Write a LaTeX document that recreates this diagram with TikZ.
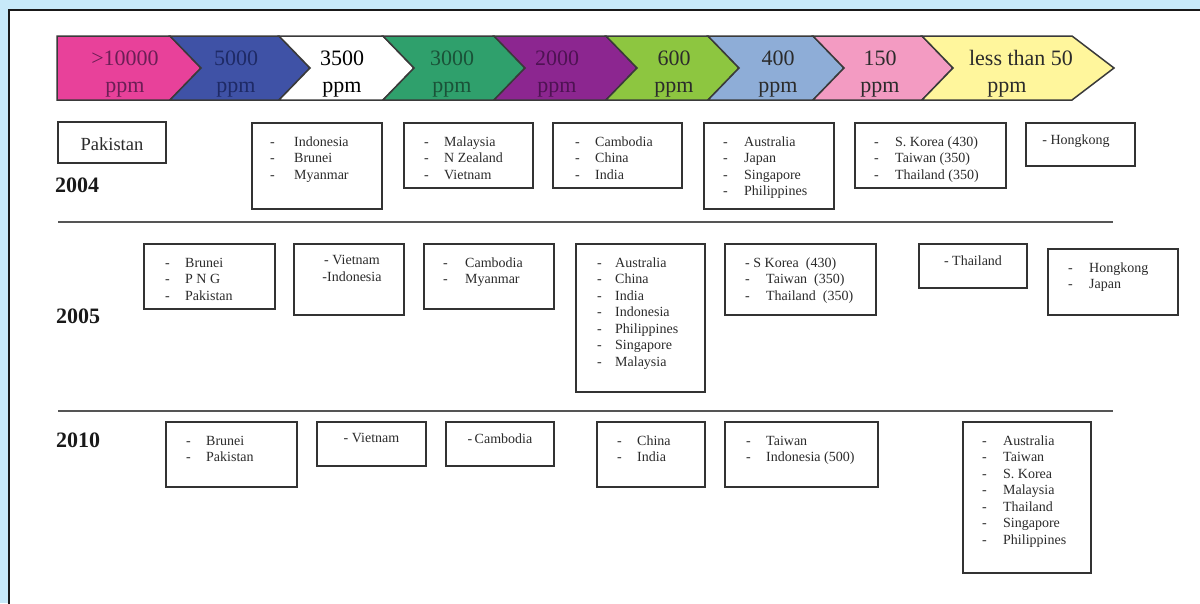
\documentclass[tikz,border=0pt]{standalone}
\usepackage{fontspec}
\setmainfont{Liberation Serif}
\definecolor{bgblue}{HTML}{C7E9F9}
\definecolor{chA}{HTML}{E8419A}
\definecolor{chB}{HTML}{3F52A6}
\definecolor{chC}{HTML}{FFFFFF}
\definecolor{chD}{HTML}{2FA06C}
\definecolor{chE}{HTML}{8C2690}
\definecolor{chF}{HTML}{8DC640}
\definecolor{chG}{HTML}{8EADD7}
\definecolor{chH}{HTML}{F39BC2}
\definecolor{chI}{HTML}{FFF69C}
\definecolor{tA}{HTML}{6B1E55}
\definecolor{tB}{HTML}{1E2A66}
\definecolor{tD}{HTML}{1A5238}
\definecolor{tE}{HTML}{4E1253}
\definecolor{tK}{HTML}{2B2B2B}
\definecolor{chline}{HTML}{3A3A3A}
\definecolor{boxline}{HTML}{333333}
\definecolor{sepline}{HTML}{555555}
\newcommand{\dlst}[2]{\begin{tabular}{@{}p{#1pt}@{}l@{}}#2\end{tabular}}
\begin{document}
\begin{tikzpicture}[x=1pt,y=-1pt,
  box/.style={draw=boxline, line width=1.9pt, fill=white, anchor=north west, inner sep=0pt, outer sep=0pt},
  lst/.style={anchor=north west, inner sep=0pt, text=tK, font=\fontsize{14}{16.5}\selectfont},
  ctr/.style={anchor=north, inner sep=0pt, text=tK, font=\fontsize{14}{16.5}\selectfont, align=center},
  chev/.style={draw=chline, line width=1.5pt, line join=miter},
  chevtxt/.style={font=\fontsize{22}{27}\selectfont, align=center, inner sep=0pt},
  yearlbl/.style={font=\fontsize{22}{26}\selectfont\bfseries, anchor=west, inner sep=0pt, text=black!90},
  sepl/.style={draw=sepline, line width=2pt}]
\useasboundingbox (0,0) rectangle (1200,603);
% background and panel
\fill[bgblue] (0,0) rectangle (1200,603);
\fill[white] (9,10) rectangle (1210,610);
\draw[black!90, line width=2.5pt] (9,612) -- (9,10) -- (1212,10);
% chevrons
\path[chev, fill=chA] (57,36)--(170,36)--(201,68)--(170,100)--(57,100)--cycle;
\path[chev, fill=chB] (170,36)--(279,36)--(310,68)--(279,100)--(170,100)--(201,68)--cycle;
\path[chev, fill=chC] (279,36)--(383,36)--(414,68)--(383,100)--(279,100)--(310,68)--cycle;
\path[chev, fill=chD] (383,36)--(494,36)--(525,68)--(494,100)--(383,100)--(414,68)--cycle;
\path[chev, fill=chE] (494,36)--(606,36)--(637,68)--(606,100)--(494,100)--(525,68)--cycle;
\path[chev, fill=chF] (606,36)--(708,36)--(739,68)--(708,100)--(606,100)--(637,68)--cycle;
\path[chev, fill=chG] (708,36)--(813,36)--(844,68)--(813,100)--(708,100)--(739,68)--cycle;
\path[chev, fill=chH] (813,36)--(922,36)--(953,68)--(922,100)--(813,100)--(844,68)--cycle;
\path[chev, fill=chI] (922,36)--(1072,36)--(1114,68)--(1072,100)--(922,100)--(953,68)--cycle;
\node[chevtxt, text=tA] (c1) at (125,74) {>10000\\ppm};
\node[chevtxt, text=tB] (c2) at (236,74) {5000\\ppm};
\node[chevtxt, text=black] (c3) at (342,74) {3500\\ppm};
\node[chevtxt, text=tD] (c4) at (452,74) {3000\\ppm};
\node[chevtxt, text=tE] (c5) at (557,74) {2000\\ppm};
\node[chevtxt, text=tK] (c6) at (674,74) {600\\ppm};
\node[chevtxt, text=tK] (c7) at (778,74) {400\\ppm};
\node[chevtxt, text=tK] (c8) at (880,74) {150\\ppm};
\node[chevtxt, text=tK] (c9) at (1021,74) {less than 50\\ppm\hspace*{28pt}};
% separators
\coordinate (s1a) at (58,222); \coordinate (s1b) at (1113,222);
\coordinate (s2a) at (58,411); \coordinate (s2b) at (1113,411);
\draw[sepl] (s1a) -- (s1b);
\draw[sepl] (s2a) -- (s2b);
% years
\node[yearlbl] (y04) at (55,185) {2004};
\node[yearlbl] (y05) at (56,316) {2005};
\node[yearlbl] (y10) at (56,440) {2010};
% row 2004
\node[box, minimum width=108pt, minimum height=41pt] (pak04) at (58,122) {};
\node[inner sep=0pt, text=tK, font=\fontsize{18.5}{22}\selectfont] (pak04t) at (112,144.5) {Pakistan};
\node[box, minimum width=130pt, minimum height=86pt] (ind04) at (252,123) {};
\node[lst] (ind04t) at (270,134.5) {\dlst{24}{-&Indonesia\\-&Brunei\\-&Myanmar}};
\node[box, minimum width=129pt, minimum height=65pt] (mal04) at (404,123) {};
\node[lst] (mal04t) at (424,134.5) {\dlst{20}{-&Malaysia\\-&N Zealand\\-&Vietnam}};
\node[box, minimum width=129pt, minimum height=65pt] (cam04) at (553,123) {};
\node[lst] (cam04t) at (575,134.5) {\dlst{20}{-&Cambodia\\-&China\\-&India}};
\node[box, minimum width=130pt, minimum height=86pt] (aus04) at (704,123) {};
\node[lst] (aus04t) at (723,134.5) {\dlst{21}{-&Australia\\-&Japan\\-&Singapore\\-&Philippines}};
\node[box, minimum width=151pt, minimum height=65pt] (kor04) at (855,123) {};
\node[lst] (kor04t) at (874,134.5) {\dlst{21}{-&S. Korea (430)\\-&Taiwan (350)\\-&Thailand (350)}};
\node[box, minimum width=109pt, minimum height=43pt] (hk04) at (1026,123) {};
\node[ctr] (hk04t) at (1076,134.5) {- Hongkong};
% row 2005
\node[box, minimum width=131pt, minimum height=65pt] (bru05) at (144,244) {};
\node[lst] (bru05t) at (165,255.5) {\dlst{20}{-&Brunei\\-&P N G\\-&Pakistan}};
\node[box, minimum width=110pt, minimum height=71pt] (vie05) at (294,244) {};
\node[ctr] (vie05t) at (352,255.5) {- Vietnam\\-Indonesia};
\node[box, minimum width=130pt, minimum height=65pt] (cam05) at (424,244) {};
\node[lst] (cam05t) at (443,255.5) {\dlst{22}{-&Cambodia\\-&Myanmar}};
\node[box, minimum width=129pt, minimum height=148pt] (aus05) at (576,244) {};
\node[lst] (aus05t) at (597,255.5) {\dlst{18}{-&Australia\\-&China\\-&India\\-&Indonesia\\-&Philippines\\-&Singapore\\-&Malaysia}};
\node[box, minimum width=151pt, minimum height=71pt] (kor05) at (725,244) {};
\node[lst] (kor05t) at (745,255.5) {\dlst{21}{\multicolumn{2}{@{}l@{}}{- S Korea\ \ (430)}\\-&Taiwan\ \ (350)\\-&Thailand\ \ (350)}};
\node[box, minimum width=108pt, minimum height=44pt] (tha05) at (919,244) {};
\node[ctr] (tha05t) at (973,255.5) {- Thailand};
\node[box, minimum width=130pt, minimum height=66pt] (hkj05) at (1048,249) {};
\node[lst] (hkj05t) at (1068,260.5) {\dlst{21}{-&Hongkong\\-&Japan}};
% row 2010
\node[box, minimum width=131pt, minimum height=65pt] (bru10) at (166,422) {};
\node[lst] (bru10t) at (186,433.5) {\dlst{20}{-&Brunei\\-&Pakistan}};
\node[box, minimum width=109pt, minimum height=44pt] (vie10) at (317,422) {};
\node[ctr] (vie10t) at (371.5,433.5) {- Vietnam};
\node[box, minimum width=108pt, minimum height=44pt] (cam10) at (446,422) {};
\node[ctr] (cam10t) at (500,433.5) {-\,Cambodia};
\node[box, minimum width=108pt, minimum height=65pt] (chi10) at (597,422) {};
\node[lst] (chi10t) at (617,433.5) {\dlst{20}{-&China\\-&India}};
\node[box, minimum width=153pt, minimum height=65pt] (tai10) at (725,422) {};
\node[lst] (tai10t) at (746,433.5) {\dlst{20}{-&Taiwan\\-&Indonesia (500)}};
\node[box, minimum width=128pt, minimum height=151pt] (aus10) at (963,422) {};
\node[lst] (aus10t) at (982,433.5) {\dlst{21}{-&Australia\\-&Taiwan\\-&S. Korea\\-&Malaysia\\-&Thailand\\-&Singapore\\-&Philippines}};
\end{tikzpicture}
\end{document}
